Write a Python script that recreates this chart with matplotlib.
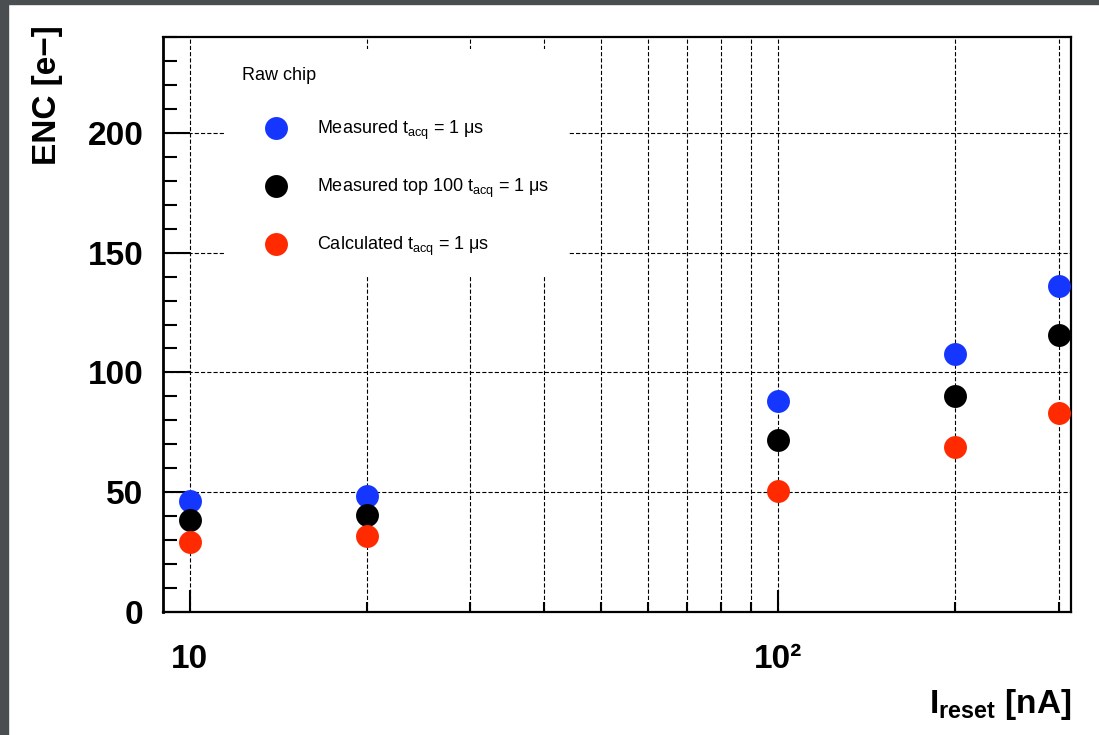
import matplotlib
matplotlib.use('Agg')

import numpy as np
import matplotlib.pyplot as plt
from matplotlib.ticker import FixedLocator, MultipleLocator, NullFormatter
from matplotlib.patches import Rectangle

plt.rcParams['font.family'] = ['Liberation Sans', 'DejaVu Sans']
plt.rcParams['mathtext.fontset'] = 'custom'
plt.rcParams['mathtext.rm'] = 'Liberation Sans'
plt.rcParams['mathtext.bf'] = 'Liberation Sans:bold'
plt.rcParams['mathtext.it'] = 'Liberation Sans:italic'
plt.rcParams['mathtext.default'] = 'regular'
plt.rcParams['lines.scale_dashes'] = False

# reset current [nA] and noise [e-]
i_reset = [10, 20, 100, 200, 300]
enc_measured = [46.5, 48.6, 88.2, 107.7, 136.2]
enc_top100 = [38.4, 40.5, 71.8, 90.2, 115.7]
enc_calc = [29.4, 31.7, 50.6, 68.8, 83.2]

series_labels = [r'Measured t$_{acq}$ = 1 μs',
                 r'Measured top 100 t$_{acq}$ = 1 μs',
                 r'Calculated t$_{acq}$ = 1 μs']
series_colors = ['#1436ff', 'black', '#ff2a00']

x_ticks = [10, 100]
x_ticklabels = ['10', '10²']
x_minor = [20, 30, 40, 50, 60, 70, 80, 90, 200, 300]
y_ticks = [0, 50, 100, 150, 200]
y_ticklabels = ['0', '50', '100', '150', '200']

fig = plt.figure(figsize=(10.99, 7.35), dpi=100)
ax = fig.add_axes([163/1099, 1 - 612/735, 908/1099, 575/735])

# screenshot border
border = '#4a4e50'
fig.patches.append(Rectangle((0, 0), 8/1099, 1, transform=fig.transFigure, color=border, zorder=0))
fig.patches.append(Rectangle((0, 1 - 4/735), 1, 4/735, transform=fig.transFigure, color=border, zorder=0))

handles = []
for vals, col, lab in zip([enc_measured, enc_top100, enc_calc], series_colors, series_labels):
    h, = ax.plot(i_reset, vals, 'o', ms=16.5, color=col, mec='none', label=lab, zorder=3, clip_on=False)
    handles.append(h)

ax.set_xscale('log')
ax.set_xlim(9.0, 315)
ax.set_ylim(0, 240)

ax.set_xticks(x_ticks, x_ticklabels, fontsize=24, fontweight='bold')
ax.xaxis.set_minor_locator(FixedLocator(x_minor))
ax.xaxis.set_minor_formatter(NullFormatter())
ax.set_yticks(y_ticks, y_ticklabels, fontsize=24, fontweight='bold')
ax.yaxis.set_minor_locator(MultipleLocator(10))

ax.tick_params(axis='x', which='major', direction='in', length=16, width=1.5, pad=23)
ax.tick_params(axis='x', which='minor', direction='in', length=7, width=1.5)
ax.tick_params(axis='y', which='major', direction='in', length=19.5, width=1.5, pad=14)
ax.tick_params(axis='y', which='minor', direction='in', length=10, width=1.5)

gs = dict(color='black', lw=0.8, linestyle=(0, (3, 1.5)))
ax.grid(True, which='both', axis='x', **gs)
ax.grid(True, which='major', axis='y', **gs)

for s in ax.spines.values():
    s.set_linewidth(1.6)
ax.spines['left'].set_linewidth(2.0)

ax.set_ylabel('ENC [e−]', fontsize=24, fontweight='bold', loc='top')
ax.yaxis.set_label_coords(-0.110, 1.021)
ax.set_xlabel(r'I$_{reset}$ [nA]', fontsize=24, fontweight='bold', loc='right')
ax.xaxis.set_label_coords(1.0, -0.13)

leg = ax.legend(handles=handles, title='Raw chip', loc='upper left',
                bbox_to_anchor=(0.0672, 0.979), borderaxespad=0,
                frameon=True, fancybox=False, edgecolor='none', facecolor='white',
                framealpha=1, borderpad=1.0, handlelength=3.78, handletextpad=0.39,
                labelspacing=1.93, alignment='left', numpoints=1,
                prop={'size': 13}, title_fontsize=13)
leg.set_zorder(5)

fig.savefig('out.png', dpi=100, facecolor='white')
